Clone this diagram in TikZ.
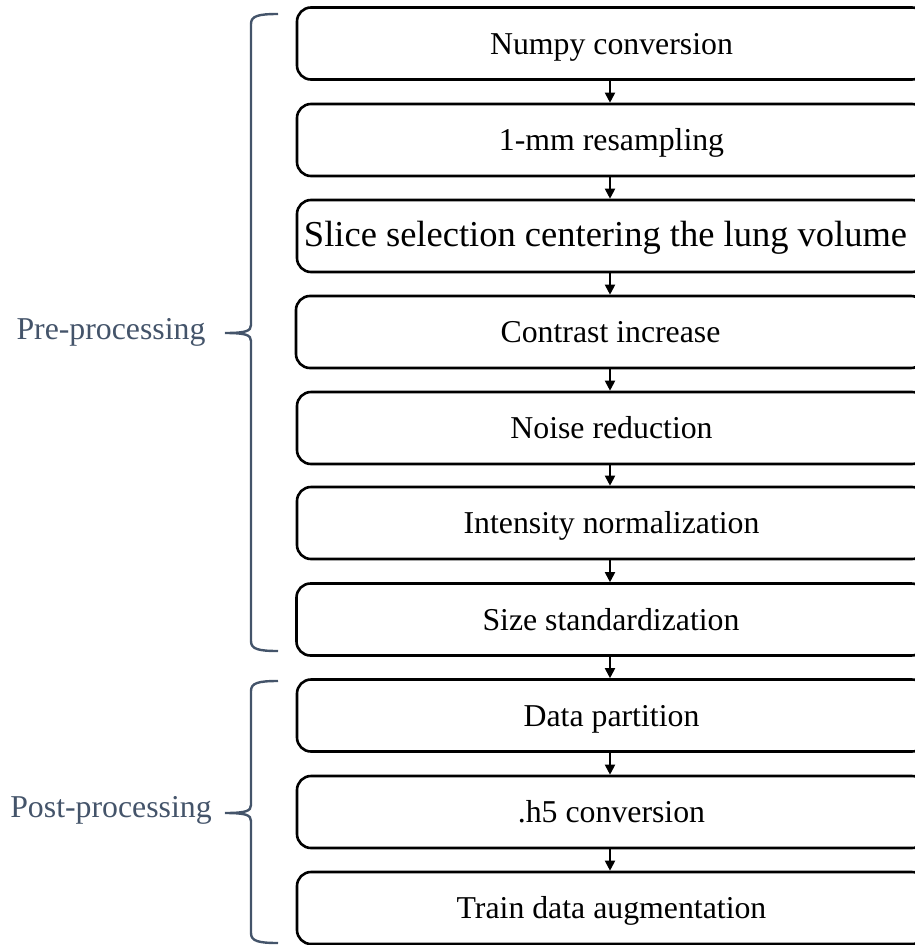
\documentclass[tikz,border=0pt]{standalone}
\usepackage{fontspec}
\setmainfont{Liberation Serif}
\usetikzlibrary{arrows.meta}
\definecolor{slate}{HTML}{44546A}
\tikzset{
  stepbox/.style={draw=black, line width=2.6pt, rounded corners=14pt,
    minimum width=629pt, minimum height=72pt, inner sep=0pt,
    text height=24pt, text depth=3pt,
    font=\fontsize{31.8}{36}\selectfont},
  flow/.style={line width=1.8pt, -{Triangle[length=10pt,width=10pt]}},
  bracket/.style={draw=slate, line width=2.4pt},
  grouplabel/.style={text=slate, font=\fontsize{31.8}{36}\selectfont, inner sep=0pt}
}
\begin{document}
\begin{tikzpicture}[x=1pt,y=-1pt]
\useasboundingbox (0,0) rectangle (914,945);

% processing steps, top to bottom
\node[stepbox] (s1)  at (611.5, 43.5)  {Numpy conversion};
\node[stepbox] (s2)  at (611.5, 140)   {1-mm resampling};
\node[stepbox, font=\fontsize{36.5}{40}\selectfont] (s3) at (611.5, 236)
  {Slice selection centering the lung volume\hspace*{12pt}};
\node[stepbox] (s4)  at (610.5, 332)   {Contrast increase};
\node[stepbox] (s5)  at (611.5, 428)   {Noise reduction};
\node[stepbox] (s6)  at (611.5, 523)   {Intensity normalization};
\node[stepbox] (s7)  at (611,   619.5) {Size standardization};
\node[stepbox] (s8)  at (611.5, 715.5) {Data partition};
\node[stepbox] (s9)  at (611.5, 812)   {.h5 conversion};
\node[stepbox] (s10) at (611.5, 908)   {Train data augmentation};

% arrows between consecutive steps
\foreach \a/\b in {s1/s2,s2/s3,s3/s4,s4/s5,s5/s6,s6/s7,s7/s8,s8/s9,s9/s10}
  \draw[flow] (\a.south -| 610,0) -- (\b.north -| 610,0);

% group brackets
\coordinate (preTop) at (278,14);
\coordinate (preBot) at (278,651);
\coordinate (preTip) at (225,333);
\draw[bracket] (preTop) .. controls (258,14) and (251,16) .. (251,24)
  -- (251,325) .. controls (251,331) and (246,333) .. (preTip)
  (preTip) .. controls (246,333) and (251,335) .. (251,341)
  -- (251,641) .. controls (251,649) and (258,651) .. (preBot);

\coordinate (postTop) at (278,681);
\coordinate (postBot) at (278,943);
\coordinate (postTip) at (225,813);
\draw[bracket] (postTop) .. controls (258,681) and (251,683) .. (251,691)
  -- (251,805) .. controls (251,811) and (246,813) .. (postTip)
  (postTip) .. controls (246,813) and (251,815) .. (251,821)
  -- (251,933) .. controls (251,941) and (258,943) .. (postBot);

\node[grouplabel] (pre)  at (111,332) {Pre-processing};
\node[grouplabel] (post) at (111,810) {Post-processing};
\end{tikzpicture}
\end{document}
